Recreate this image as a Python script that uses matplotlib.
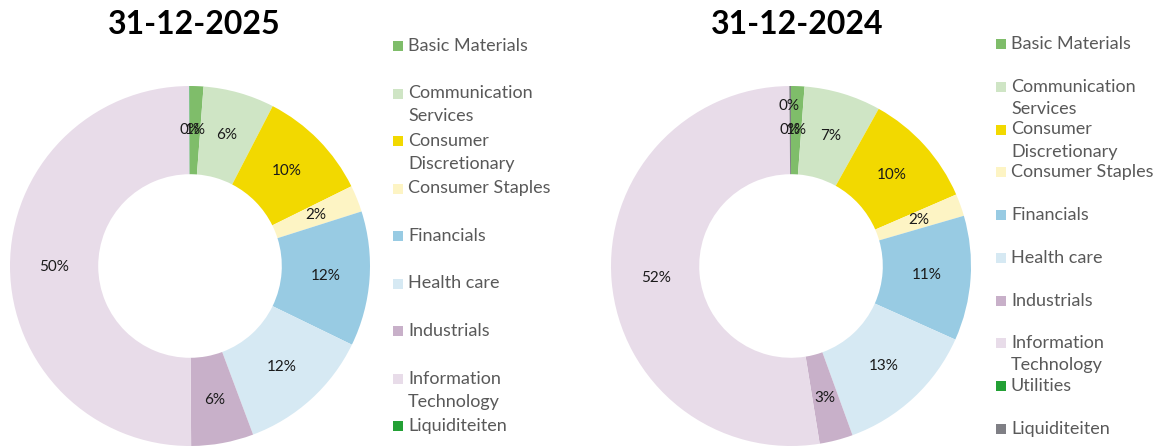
import matplotlib.pyplot as plt
from matplotlib.patches import Rectangle

W, H = 1161, 446

labels_2025 = ["Basic Materials", "Communication\nServices", "Consumer\nDiscretionary",
               "Consumer Staples", "Financials", "Health care", "Industrials",
               "Information\nTechnology", "Liquiditeiten"]
values_2025 = [1.2, 6.4, 10.1, 2.4, 12.1, 12.1, 5.6, 50.05, 0.05]
colors_2025 = ["#7fbd6a", "#cfe5c5", "#f2d900", "#fdf4c4", "#98cbe3", "#d6e9f3",
               "#c8b0c9", "#e8dce9", "#23a035"]

labels_2024 = ["Basic Materials", "Communication\nServices", "Consumer\nDiscretionary",
               "Consumer Staples", "Financials", "Health care", "Industrials",
               "Information\nTechnology", "Utilities", "Liquiditeiten"]
values_2024 = [1.2, 6.9, 10.4, 2.0, 11.2, 12.75, 3.0, 52.4, 0.0, 0.15]
colors_2024 = ["#7fbd6a", "#cfe5c5", "#f2d900", "#fdf4c4", "#98cbe3", "#d6e9f3",
               "#c8b0c9", "#e8dce9", "#23a035", "#7f7f85"]

plt.rcParams['font.family'] = ['Lato', 'DejaVu Sans']


def px(x, y):
    # pixel position (from top left) to figure fraction
    return x / W, 1 - y / H


def donut(fig, cx, cy, r, title, title_x, values, labels, colors,
          leg_x, leg_y, step, line_h, lift=None):
    ax = fig.add_axes([(cx - r) / W, 1 - (cy + r) / H, 2 * r / W, 2 * r / H])
    wedges, texts, autotexts = ax.pie(
        values, colors=colors, startangle=90, counterclock=False,
        wedgeprops=dict(width=0.49, linewidth=0),
        autopct=lambda p: f"{p:.0f}%", pctdistance=0.755,
        textprops=dict(fontsize=11, color="#1a1a1a"))
    ax.set_xlim(-1, 1)
    ax.set_ylim(-1, 1)
    if lift is not None:
        # push one overlapping label further out like the original
        x, y = autotexts[lift].get_position()
        autotexts[lift].set_position((x * 0.89 / 0.755, y * 0.89 / 0.755))

    tx, ty = px(title_x, 25)
    fig.text(tx, ty, title, ha="center", va="center", fontsize=23,
             fontweight="bold", color="#000000")

    for i, (lab, col) in enumerate(zip(labels, colors)):
        y0 = leg_y + i * step
        fig.patches.append(Rectangle(px(leg_x, y0 + 5), 10 / W, 10 / H,
                                     transform=fig.transFigure, facecolor=col,
                                     edgecolor="none"))
        for k, line in enumerate(lab.split("\n")):
            lx, ly = px(leg_x + 15, y0 + k * line_h)
            fig.text(lx, ly, line, ha="left", va="center", fontsize=13,
                     color="#595959")


def main():
    fig = plt.figure(figsize=(W / 100, H / 100), dpi=100)
    donut(fig, 190, 266, 180, "31-12-2025", 194, values_2025, labels_2025,
          colors_2025, 393, 46, 47.5, 23)
    donut(fig, 791, 266, 180, "31-12-2024", 797, values_2024, labels_2024,
          colors_2024, 996, 44, 42.75, 22, lift=8)
    fig.savefig("out.png", dpi=100)


if __name__ == "__main__":
    main()
